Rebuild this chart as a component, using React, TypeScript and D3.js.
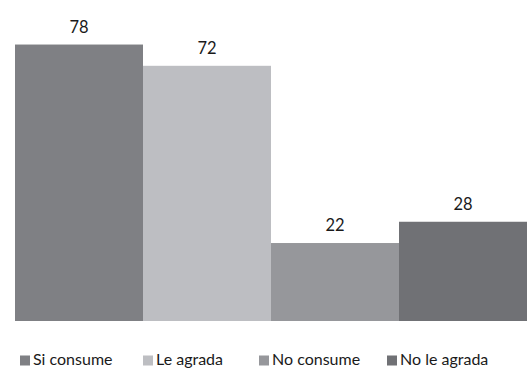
import React from "react";
import * as d3 from "d3";

const categories = ["Si consume", "Le agrada", "No consume", "No le agrada"];
const values = [78, 72, 22, 28];
const colors = ["#7f8084", "#bdbec2", "#96979b", "#707175"];

const W = 528;
const H = 369;

export default function App() {
  const x = d3.scaleBand<string>().domain(categories).range([15, 527]).padding(0);
  const y = d3.scaleLinear().domain([0, 90]).range([321, 2]);
  const legendX = [20, 143, 259, 387];
  const font = "Lato, 'Open Sans', sans-serif";
  return (
    <svg
      width={W}
      height={H}
      style={{ position: "absolute", left: 0, top: 0, background: "#fff" }}
      fontFamily={font}
    >
      {categories.map((c, i) => (
        <g key={c}>
          <rect
            x={x(c)!}
            y={y(values[i])}
            width={x.bandwidth()}
            height={y(0) - y(values[i])}
            fill={colors[i]}
          />
          <text
            x={x(c)! + x.bandwidth() / 2}
            y={y(values[i]) - 12}
            textAnchor="middle"
            fontSize={16.5}
            fill="#1a1a1a"
          >
            {values[i]}
          </text>
        </g>
      ))}
      {categories.map((c, i) => (
        <g key={"lg" + c} transform={`translate(${legendX[i]},0)`}>
          <rect x={0} y={355.5} width={10} height={10} fill={colors[i]} />
          <text x={13} y={365} fontSize={16} fill="#1a1a1a">
            {c}
          </text>
        </g>
      ))}
    </svg>
  );
}
